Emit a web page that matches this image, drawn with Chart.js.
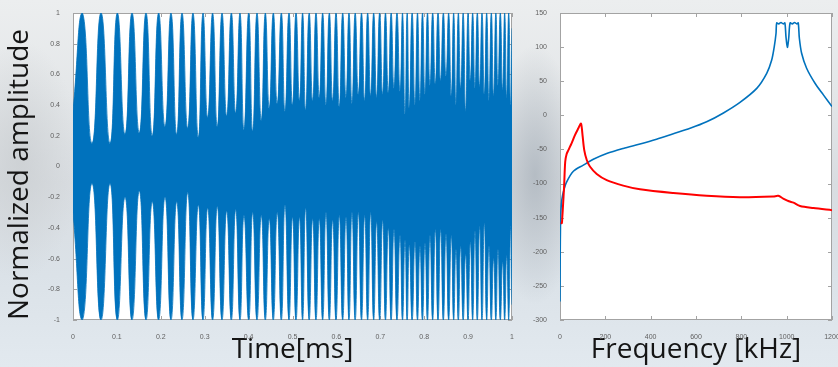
<!DOCTYPE html>
<html>
<head>
<meta charset="utf-8">
<script src="https://cdn.jsdelivr.net/npm/chart.js@4.4.1/dist/chart.umd.min.js"></script>
<style>
  html, body { margin: 0; padding: 0; width: 838px; height: 367px; overflow: hidden; }
  body {
    position: relative;
    background:
      radial-gradient(ellipse 45px 130px at 535px 175px, rgba(168, 177, 186, 0.75), rgba(168, 177, 186, 0)),
      radial-gradient(ellipse 60px 120px at 20px 160px, rgba(200, 204, 207, 0.7), rgba(200, 204, 207, 0)),
      linear-gradient(180deg, #eceeef 0%, #e4e7e9 25%, #d9dde1 50%, #dbe2e8 75%, #e2e9ef 100%);
  }
  #wave { position: absolute; left: 0; top: 0; }
  #spec { position: absolute; left: 520px; top: 0; }
</style>
</head>
<body>
<canvas id="wave" width="520" height="367"></canvas>
<canvas id="spec" width="330" height="367"></canvas>
<script>
// Left panel: envelope of the chirp (ms / normalized)
const peakTimes = [
  0.0213, 0.0638, 0.101, 0.1344, 0.1663, 0.195, 0.2232, 0.2483, 0.2733, 0.2961,
  0.318, 0.3394, 0.3607, 0.3804, 0.4002, 0.4191, 0.4381, 0.4563, 0.4746, 0.492,
  0.508, 0.523, 0.538, 0.5535, 0.5687, 0.5839, 0.5991, 0.6143, 0.6287, 0.6428,
  0.6572, 0.6712, 0.6849, 0.6985, 0.7118, 0.7247, 0.738, 0.7506, 0.7612, 0.7725,
  0.7847, 0.7961, 0.8075, 0.8193, 0.8315, 0.8436, 0.8557, 0.8671, 0.8778, 0.8888,
  0.8998, 0.9104, 0.921, 0.9317, 0.9423, 0.9529, 0.9632, 0.9734, 0.9833, 0.9925
];
const gapTimes = [
  0.0433, 0.0843, 0.1185, 0.151, 0.1806, 0.2096, 0.2362, 0.2613, 0.2855, 0.3068,
  0.3287, 0.3501, 0.3706, 0.3895, 0.4093, 0.4289, 0.4471, 0.4653, 0.4829, 0.5,
  0.516, 0.53, 0.5459, 0.5611, 0.5763, 0.5915, 0.6067, 0.6219, 0.6355, 0.65,
  0.6644, 0.6781, 0.6917, 0.7054, 0.7183, 0.7312, 0.7449, 0.7563, 0.7661, 0.779,
  0.7904, 0.8018, 0.8132, 0.8254, 0.8375, 0.8497, 0.8618, 0.8724, 0.8831, 0.8945,
  0.9051, 0.9157, 0.9264, 0.937, 0.9476, 0.9582, 0.9681, 0.9787, 0.9879, 0.997
];
const peakLevel = 1;
const upperDepth = [
  0.15, 0.15, 0.21, 0.22, 0.2, 0.26, 0.21, 0.25, 0.19, 0.32,
  0.26, 0.33, 0.35, 0.24, 0.23, 0.3, 0.38, 0.41, 0.36, 0.4,
  0.43, 0.37, 0.43, 0.45, 0.4, 0.43, 0.39, 0.45, 0.41, 0.47,
  0.43, 0.46, 0.45, 0.47, 0.48, 0.51, 0.49, 0.34, 0.38, 0.4,
  0.43, 0.47, 0.53, 0.54, 0.56, 0.59, 0.46, 0.4, 0.51, 0.36,
  0.56, 0.51, 0.52, 0.47, 0.43, 0.46, 0.53, 0.5, 0.45, 0.4
];
const lowerDepth = [
  -0.11, -0.11, -0.2, -0.16, -0.23, -0.2, -0.23, -0.17, -0.25, -0.27,
  -0.26, -0.29, -0.28, -0.32, -0.3, -0.32, -0.34, -0.3, -0.25, -0.33,
  -0.33, -0.27, -0.34, -0.34, -0.3, -0.35, -0.32, -0.33, -0.3, -0.3,
  -0.32, -0.3, -0.36, -0.35, -0.4, -0.41, -0.45, -0.48, -0.51, -0.49,
  -0.52, -0.5, -0.45, -0.41, -0.41, -0.44, -0.45, -0.54, -0.52, -0.57,
  -0.49, -0.42, -0.39, -0.37, -0.52, -0.6, -0.54, -0.62, -0.58, -0.39
];
const edgeUpper = [0.36, 0.9];   // value at t = 0 and t = 1
const edgeLower = [-0.3, -0.9];
const timeTicks = [0, 0.1, 0.2, 0.3, 0.4, 0.5, 0.6, 0.7, 0.8, 0.9, 1];
const ampTicks = [-1, -0.8, -0.6, -0.4, -0.2, 0, 0.2, 0.4, 0.6, 0.8, 1];

// Right panel: spectra (kHz / dB)
const freqBlue = [
  0, 1, 2, 4, 8, 15, 29, 59, 103, 147, 206, 279, 353, 426, 500, 574, 647, 721,
  794, 868, 912, 934, 945, 953, 956, 965, 975, 985, 992, 997, 1003, 1009, 1015,
  1025, 1035, 1045, 1051, 1056, 1066, 1088, 1125, 1162, 1200
];
const levelBlue = [
  -273, -200, -165, -140, -124, -112, -98, -82, -73, -64.5, -56, -48.5, -42, -35,
  -27, -19, -9.5, 3.5, 19, 39.5, 61.5, 81, 100, 120, 135.5, 134, 136, 134, 135.5,
  115, 99.7, 113, 135.5, 134, 136, 134, 135.5, 113, 91, 69, 47, 30, 13
];
const freqRed = [
  3, 8, 10, 13, 18, 23, 29, 37, 51, 66, 81, 92, 96, 100, 107, 118, 132, 162, 206,
  279, 353, 500, 647, 794, 941, 963, 985, 1010, 1030, 1059, 1118, 1200
];
const levelRed = [
  -158, -158, -150, -134, -105, -68, -57, -51, -41, -29, -19, -12, -18, -31, -51,
  -65.5, -75, -86, -95, -103, -108.5, -114, -118, -120, -119, -118, -122, -126,
  -128, -133, -136, -139
];
const freqTicks = [0, 200, 400, 600, 800, 1000, 1200];
const levelTicks = [-300, -250, -200, -150, -100, -50, 0, 50, 100, 150];

const BLUE = "#0072BD";
const RED = "#FF0000";
const tickFont = { family: "Liberation Sans", size: 7 };
const titleFont = { family: "Open Sans", size: 28 };

// build the envelope outlines from the readings
function envelope(edge, depth) {
  const pts = [{ x: 0, y: edge[0] }];
  const sign = edge[0] < 0 ? -1 : 1;
  gapTimes.forEach((t, i) => {
    pts.push({ x: peakTimes[i], y: sign * peakLevel });
    pts.push({ x: t, y: depth[i] });
  });
  pts.push({ x: 1, y: edge[1] });
  return pts;
}

// white plot background + matlab-like box with inward tick marks
const matlabBox = {
  id: "matlabBox",
  beforeDatasetsDraw(chart) {
    const { ctx, chartArea, scales } = chart;
    const { left, right, top, bottom } = chartArea;
    ctx.save();
    ctx.fillStyle = "#ffffff";
    ctx.fillRect(left, top, right - left, bottom - top);
    ctx.strokeStyle = "#a3a3a3";
    ctx.lineWidth = 1;
    ctx.strokeRect(left + 0.5, top + 0.5, right - left - 1, bottom - top - 1);
    ctx.beginPath();
    scales.x.ticks.forEach((t) => {
      const px = Math.round(scales.x.getPixelForValue(t.value)) + 0.5;
      ctx.moveTo(px, bottom); ctx.lineTo(px, bottom - 4);
      ctx.moveTo(px, top); ctx.lineTo(px, top + 4);
    });
    scales.y.ticks.forEach((t) => {
      const py = Math.round(scales.y.getPixelForValue(t.value)) + 0.5;
      ctx.moveTo(left, py); ctx.lineTo(left + 4, py);
      ctx.moveTo(right, py); ctx.lineTo(right - 4, py);
    });
    ctx.stroke();
    ctx.restore();
  },
};

function axis(ticksArr, extra) {
  return Object.assign({
    type: "linear",
    min: ticksArr[0],
    max: ticksArr[ticksArr.length - 1],
    afterBuildTicks: (s) => { s.ticks = ticksArr.map((v) => ({ value: v })); },
    grid: { display: false },
    border: { display: false },
    ticks: {
      font: tickFont,
      color: "#5f5f5f",
      padding: 5,
      autoSkip: false,
      maxRotation: 0,
      callback: (v) => String(v),
    },
  }, extra);
}

// Chart 1: time signal (area between the two envelopes)
new Chart(document.getElementById("wave"), {
  type: "line",
  data: {
    datasets: [
      { data: envelope(edgeUpper, upperDepth), fill: "+1", backgroundColor: BLUE, borderColor: BLUE, borderWidth: 0.8 },
      { data: envelope(edgeLower, lowerDepth), fill: false, borderColor: BLUE, borderWidth: 0.8 },
    ],
  },
  options: {
    responsive: false,
    animation: false,
    layout: { padding: { top: 13, right: 8, left: 0, bottom: 0 } },
    elements: { point: { radius: 0 }, line: { tension: 0.55 } },
    plugins: { legend: { display: false }, tooltip: { enabled: false } },
    scales: {
      x: axis(timeTicks, {
        afterFit: (s) => { s.height = 47; },
        title: { display: true, text: "Time[ms]", font: titleFont, color: "#151515", padding: { top: 0, bottom: 0 } },
      }),
      y: axis(ampTicks, {
        afterFit: (s) => { s.width = 73; },
        title: { display: true, text: "Normalized amplitude", align: "start", font: titleFont, color: "#151515", padding: { top: 3, bottom: 0 } },
      }),
    },
  },
  plugins: [matlabBox],
});

// Chart 2: spectra
new Chart(document.getElementById("spec"), {
  type: "line",
  data: {
    datasets: [
      { data: freqRed.map((f, i) => ({ x: f, y: levelRed[i] })), borderColor: RED, borderWidth: 2 },
      { data: freqBlue.map((f, i) => ({ x: f, y: levelBlue[i] })), borderColor: BLUE, borderWidth: 1.6 },
    ],
  },
  options: {
    responsive: false,
    animation: false,
    layout: { padding: { top: 13, right: 18, left: 0, bottom: 0 } },
    elements: { point: { radius: 0 }, line: { tension: 0.3, fill: false } },
    plugins: { legend: { display: false }, tooltip: { enabled: false } },
    scales: {
      x: axis(freqTicks, {
        afterFit: (s) => { s.height = 47; },
        title: { display: true, text: "Frequency [kHz]", font: titleFont, color: "#151515", padding: { top: 0, bottom: 0 } },
      }),
      y: axis(levelTicks, {
        afterFit: (s) => { s.width = 40; },
      }),
    },
  },
  plugins: [matlabBox],
});
</script>
</body>
</html>
